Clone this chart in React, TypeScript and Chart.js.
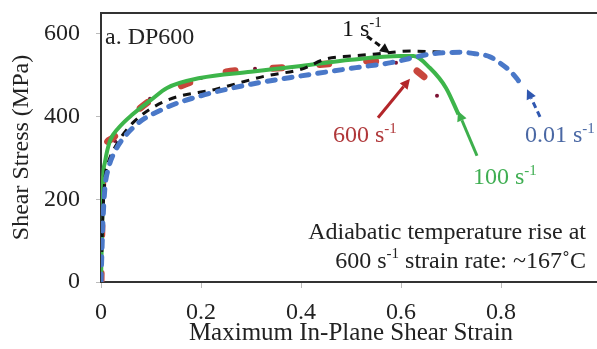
import React, { useEffect, useRef } from "react";
import { Chart, registerables } from "chart.js";

Chart.register(...registerables);

// ---- data ----
const xTickValues = [0, 0.2, 0.4, 0.6, 0.8, 1];
const yTickValues = [0, 200, 400, 600];

const strain001 = [0, 0.002, 0.004, 0.008, 0.015, 0.025, 0.064, 0.13, 0.2, 0.3, 0.4, 0.51, 0.58, 0.66, 0.72, 0.74, 0.778, 0.798, 0.818, 0.832, 0.842];
const stress001 = [0, 80, 150, 230, 275, 309, 373, 421, 450, 478, 498, 518, 530, 551, 555, 553, 544, 529, 510, 491, 474];

const strain1 = [0, 0.002, 0.004, 0.008, 0.015, 0.03, 0.064, 0.13, 0.23, 0.33, 0.4, 0.45, 0.5, 0.55, 0.62, 0.69];
const stress1 = [0, 90, 170, 250, 290, 330, 385, 438, 466, 498, 514, 539, 546, 551, 558, 555];

const strain100 = [0, 0.002, 0.004, 0.008, 0.018, 0.035, 0.064, 0.1, 0.132, 0.198, 0.3, 0.4, 0.5, 0.6, 0.625, 0.658, 0.69, 0.715];
const stress100 = [0, 120, 245, 290, 341, 372, 406, 440, 469, 493, 508, 522, 537, 546, 546, 517, 469, 405];

const strain600 = [0, 0.002, 0.005, 0.02, 0.058, 0.1, 0.15, 0.24, 0.365, 0.45, 0.53, 0.59, 0.61, 0.632, 0.652];
const stress600 = [0, 150, 300, 345, 397, 440, 469, 505, 518, 527, 534, 530, null, 510, 490];

const dotStrain600 = [0.028, 0.098, 0.2, 0.308, 0.44, 0.59, 0.672];
const dotStress600 = [341, 443, 493, 515, 526, 530, 450];

// annotation arrows: [tailX, tailY, tipX, tipY] in data units
const arrow1 = [0.532, 594, 0.578, 553];
const arrow600 = [0.554, 397, 0.618, 491];
const arrow100 = [0.752, 305, 0.714, 413];
const arrow001 = [0.878, 399, 0.852, 466];

const FONT = "'Liberation Serif', 'Times New Roman', serif";
const FS = 24;

const pts = (xs: number[], ys: (number | null)[]) => xs.map((x, i) => ({ x, y: ys[i] }));

function drawRich(ctx: CanvasRenderingContext2D, parts: [string, boolean][], x: number, y: number, color: string, align: "left" | "right", size: number) {
  const supSize = Math.round(size * 0.62);
  let total = 0;
  for (const [t, sup] of parts) {
    ctx.font = `${sup ? supSize : size}px ${FONT}`;
    total += ctx.measureText(t).width;
  }
  let cx = align === "right" ? x - total : x;
  ctx.fillStyle = color;
  ctx.textBaseline = "alphabetic";
  ctx.textAlign = "left";
  for (const [t, sup] of parts) {
    ctx.font = `${sup ? supSize : size}px ${FONT}`;
    ctx.fillText(t, cx, sup ? y - size * 0.38 : y);
    cx += ctx.measureText(t).width;
  }
}

function drawArrow(ctx: CanvasRenderingContext2D, chart: any, a: number[], color: string, dash: number[], width: number) {
  const xs = chart.scales.x, ys = chart.scales.y;
  const x1 = xs.getPixelForValue(a[0]), y1 = ys.getPixelForValue(a[1]);
  const x2 = xs.getPixelForValue(a[2]), y2 = ys.getPixelForValue(a[3]);
  const ang = Math.atan2(y2 - y1, x2 - x1);
  const head = 10;
  const bx = x2 - Math.cos(ang) * head, by = y2 - Math.sin(ang) * head;
  ctx.save();
  ctx.strokeStyle = color;
  ctx.lineWidth = width;
  ctx.setLineDash(dash);
  ctx.beginPath();
  ctx.moveTo(x1, y1);
  ctx.lineTo(bx, by);
  ctx.stroke();
  ctx.setLineDash([]);
  ctx.fillStyle = color;
  ctx.beginPath();
  ctx.moveTo(x2, y2);
  ctx.lineTo(bx + Math.cos(ang + Math.PI / 2) * 5, by + Math.sin(ang + Math.PI / 2) * 5);
  ctx.lineTo(bx + Math.cos(ang - Math.PI / 2) * 5, by + Math.sin(ang - Math.PI / 2) * 5);
  ctx.closePath();
  ctx.fill();
  ctx.restore();
}

const annotationPlugin = {
  id: "annotations",
  afterDatasetsDraw(chart: any) {
    const ctx = chart.ctx as CanvasRenderingContext2D;
    const { x: xs, y: ys } = chart.scales;
    const area = chart.chartArea;
    ctx.save();
    ctx.strokeStyle = "#333";
    ctx.lineWidth = 2;
    ctx.beginPath();
    ctx.moveTo(area.left, area.top);
    ctx.lineTo(area.right, area.top);
    ctx.lineTo(area.right, area.bottom);
    ctx.stroke();
    ctx.restore();

    drawArrow(ctx, chart, arrow1, "#111", [6, 4], 3);
    drawArrow(ctx, chart, arrow600, "#b3262a", [], 3);
    drawArrow(ctx, chart, arrow100, "#3daf4c", [], 3);
    drawArrow(ctx, chart, arrow001, "#2f57b0", [6, 4], 3);

    const px = (v: number) => xs.getPixelForValue(v);
    const py = (v: number) => ys.getPixelForValue(v);
    drawRich(ctx, [["a. DP600", false]], px(0.008), py(575), "#222", "left", FS);
    drawRich(ctx, [["1 s", false], ["-1", true]], px(0.482), py(594), "#111", "left", FS);
    drawRich(ctx, [["600 s", false], ["-1", true]], px(0.464), py(339), "#b0383a", "left", FS);
    drawRich(ctx, [["0.01 s", false], ["-1", true]], px(0.848), py(339), "#4a68a4", "left", FS);
    drawRich(ctx, [["100 s", false], ["-1", true]], px(0.744), py(237), "#3fae52", "left", FS);
    drawRich(ctx, [["Adiabatic temperature rise at", false]], px(0.97), py(103), "#222", "right", FS);
    drawRich(ctx, [["600 s", false], ["-1", true], [" strain rate: ~167\u02DAC", false]], px(0.97), py(35), "#222", "right", FS);
  },
};

export default function App() {
  const ref = useRef<HTMLCanvasElement | null>(null);
  useEffect(() => {
    if (!ref.current) return;
    const tickFont = { family: FONT, size: FS };
    const line = { showLine: true, pointRadius: 0, cubicInterpolationMode: "monotone" };
    const chart = new Chart(ref.current, {
      type: "scatter",
      data: {
        datasets: [
          { ...line, label: "0.01 outer", data: pts(strain001, stress001), borderColor: "#4a78c8", borderWidth: 5, borderDash: [8, 9], borderCapStyle: "round" } as any,
          { ...line, label: "0.01 inner", data: pts(strain001, stress001), borderColor: "#e4ecf8", borderWidth: 2, borderDash: [8, 9], borderCapStyle: "round" } as any,
          { ...line, label: "1", data: pts(strain1, stress1), borderColor: "#111", borderWidth: 3, borderDash: [8, 7] } as any,
          { ...line, label: "100", data: pts(strain100, stress100), borderColor: "#3db54a", borderWidth: 4 } as any,
          { ...line, label: "600 outer", data: pts(strain600, stress600), spanGaps: false, borderColor: "#c8463c", borderWidth: 7, borderDash: [9, 38], borderCapStyle: "round" } as any,
          { ...line, label: "600 inner", data: pts(strain600, stress600), spanGaps: false, borderColor: "#f6d3cb", borderWidth: 3, borderDash: [9, 38], borderCapStyle: "round" } as any,
          { label: "600 pts", data: pts(dotStrain600, dotStress600), showLine: false, pointRadius: 2, pointBackgroundColor: "#7d1233", pointBorderWidth: 0 } as any,
        ],
      },
      options: {
        animation: false,
        responsive: false,
        devicePixelRatio: 1,
        layout: { padding: { top: 13, right: 9, left: 0, bottom: 0 } },
        plugins: { legend: { display: false }, tooltip: { enabled: false } },
        scales: {
          x: {
            type: "linear",
            min: 0,
            max: 1,
            afterFit: (s: any) => { s.height = 67; s.paddingLeft = 0; s.paddingRight = 0; },
            afterBuildTicks: (s: any) => { s.ticks = xTickValues.map((v) => ({ value: v })); },
            ticks: {
              font: tickFont,
              color: "#222",
              padding: 10,
              maxRotation: 0,
              autoSkip: false,
              callback: (v: any) => (v === 1 ? "" : v === 0 ? "0" : Number(v).toFixed(1)),
            },
            grid: { drawOnChartArea: false, drawTicks: true, tickLength: 6, color: "#bbb" },
            border: { display: true, color: "#333", width: 2 },
            title: { display: true, text: "Maximum In-Plane Shear Strain", font: { family: FONT, size: 25 }, color: "#222", padding: { top: 0, bottom: 1 } },
          },
          y: {
            type: "linear",
            min: 0,
            max: 650,
            afterFit: (s: any) => { s.width = 101; s.paddingTop = 0; s.paddingBottom = 0; },
            afterBuildTicks: (s: any) => { s.ticks = yTickValues.map((v) => ({ value: v })); },
            ticks: { font: tickFont, color: "#222", padding: 16 },
            grid: { drawOnChartArea: false, drawTicks: true, tickLength: 5, color: "#bbb" },
            border: { display: true, color: "#333", width: 2 },
            title: { display: true, text: "Shear Stress (MPa)", font: tickFont, color: "#222", padding: { top: 7, bottom: 0 } },
          },
        },
      },
      plugins: [annotationPlugin],
    } as any);
    return () => chart.destroy();
  }, []);
  return (
    <div style={{ position: "fixed", left: 0, top: 0, width: 597, height: 349, overflow: "hidden", background: "#fff" }}>
      <canvas ref={ref} width={610} height={349} style={{ display: "block" }} />
    </div>
  );
}
